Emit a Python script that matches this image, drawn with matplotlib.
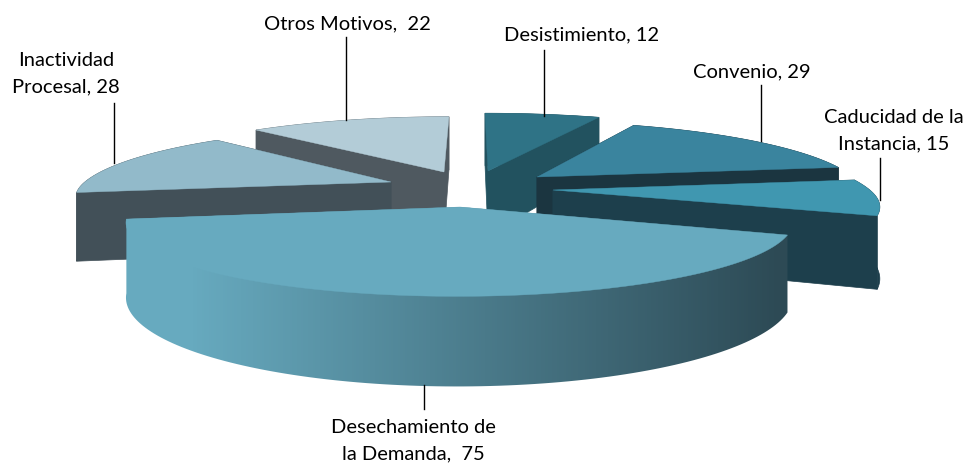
import numpy as np
import matplotlib
matplotlib.use('Agg')
import matplotlib.pyplot as plt
from matplotlib.colors import LinearSegmentedColormap
from matplotlib.patches import Polygon

motivos = ['Desistimiento', 'Convenio', 'Caducidad de la\nInstancia',
           'Desechamiento de\nla Demanda', 'Inactividad\nProcesal', 'Otros Motivos']
valores = [12, 29, 15, 75, 28, 22]

# camara y forma de la torta (en pixeles de la imagen)
CX, CY = 472, 203.5
ESC_X, ESC_Y, ALTO = 320, 69, 71
PERSP = 0.2
ESTIRA_FONDO = 1.07

# vertice de cada porcion en pantalla y radio
vertices = [(488, 171), (537, 177), (553, 190), (460, 207), (391, 182), (444, 172)]
radios = [1.17, 1.07, 1.03, 1.01, 1.02, 1.1]
sup_col = ['#2F7386', '#3A849E', '#4097B0', '#67AABF', '#92BACA', '#B3CCD7']
lado_col = ['#22525F', '#1B3540', '#1D3F4C', '#2D4A55', '#425058', '#4F5960']
orden = [5, 4, 0, 1, 2, 3]
DEGRADADO = 3

# etiquetas: centro del texto, separador y linea guia
pos_etq = [(582, 35), (752, 72), (894, 131), (413, 441), (66, 74), (347, 24)]
sep_etq = ['', '', '', ' ', '', ' ']
guias = [((544, 50), (544, 116)), ((761, 85), (761, 141)), ((880, 158), (880, 200)),
         ((424, 385), (424, 409)), ((114, 103), (114, 163)), ((346, 37), (346, 120))]


def proyectar(x, y, z=0.0):
    w = 1 + PERSP * y
    return CX + ESC_X * x / w, CY - ESC_Y * y / w - ALTO * z / w


def desproyectar(sx, sy):
    q = (CY - sy) / ESC_Y
    y = q / (1 - PERSP * q)
    x = (sx - CX) / ESC_X * (1 + PERSP * y)
    return x, y


fig = plt.figure(figsize=(9.74, 4.65), dpi=100)
ax = fig.add_axes([0, 0, 1, 1])

limites = np.radians(np.concatenate([[0], np.cumsum(valores)]) / sum(valores) * 360)

for n, i in enumerate(orden):
    x0, y0 = desproyectar(*vertices[i])
    t = np.linspace(limites[i], limites[i + 1], 120)
    xs = x0 + radios[i] * np.sin(t)
    ys = y0 + radios[i] * np.cos(t) * np.where(np.cos(t) > 0, ESTIRA_FONDO, 1)
    arr_x, arr_y = proyectar(xs, ys)
    aba_x, aba_y = proyectar(xs, ys, -1)
    ax_, ay_ = proyectar(x0, y0)
    bx_, by_ = proyectar(x0, y0, -1)

    # paredes radiales (las de Desechamiento quedan ocultas)
    if i != DEGRADADO:
        for k in (0, -1):
            ax.fill([ax_, arr_x[k], aba_x[k], bx_], [ay_, arr_y[k], aba_y[k], by_],
                    color=lado_col[i], lw=0.5, zorder=1 + n * 3)

    # pared exterior (la de Desechamiento lleva degradado)
    if i == DEGRADADO:
        # el recorte entra bajo la cara superior para que no quede costura
        borde = np.column_stack([np.r_[arr_x[0], aba_x, arr_x[-1], ax_],
                                 np.r_[arr_y[0], aba_y, arr_y[-1], ay_]])
        cmap = LinearSegmentedColormap.from_list('pared', [sup_col[i], lado_col[i]])
        grad = np.clip((np.arange(974) - 190) / (780 - 190), 0, 1).reshape(1, -1)
        im = ax.imshow(grad, cmap=cmap, vmin=0, vmax=1, aspect='auto',
                       extent=(0, 974, 465, 0), zorder=2 + n * 3)
        im.set_clip_path(Polygon(borde, closed=True, transform=ax.transData))
    else:
        ax.fill(np.r_[arr_x, aba_x[::-1]], np.r_[arr_y, aba_y[::-1]],
                color=lado_col[i], lw=0.5, zorder=2 + n * 3)

    # cara superior
    ax.fill(np.r_[ax_, arr_x], np.r_[ay_, arr_y], color=sup_col[i], lw=0.3, zorder=3 + n * 3)

for i in range(len(motivos)):
    ax.text(pos_etq[i][0], pos_etq[i][1], f'{motivos[i]},{sep_etq[i]} {valores[i]}',
            ha='center', va='center', fontsize=14.5, family='Lato', color='black',
            linespacing=1.65, zorder=40)
    (gx0, gy0), (gx1, gy1) = guias[i]
    ax.plot([gx0, gx1], [gy0, gy1], color='black', lw=1.0, zorder=30)

ax.set_xlim(0, 974)
ax.set_ylim(465, 0)
ax.axis('off')

fig.savefig('out.png', dpi=100, facecolor='white')
